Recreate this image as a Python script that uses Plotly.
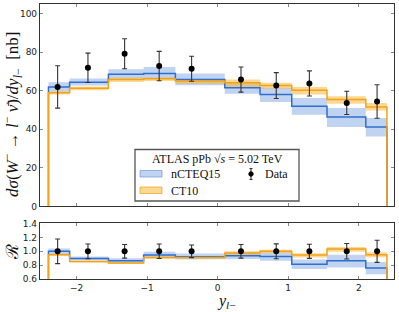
import plotly.graph_objects as go

# ---------------- data ----------------
bin_edges = [-2.4, -2.1, -1.55, -1.05, -0.6, 0.1, 0.6, 1.05, 1.55, 2.1, 2.4]

ncteq_central = [62.0, 64.4, 68.5, 69.0, 65.8, 61.5, 58.0, 51.9, 46.4, 41.2]
ncteq_upper   = [64.4, 66.4, 71.2, 72.3, 69.0, 64.4, 61.5, 56.3, 51.1, 45.9]
ncteq_lower   = [59.6, 62.7, 66.2, 66.2, 62.9, 58.4, 54.2, 47.6, 41.2, 36.3]

ct10_central  = [58.9, 61.3, 65.8, 66.2, 65.0, 64.1, 62.7, 60.3, 55.4, 51.6]
ct10_upper    = [59.9, 62.2, 66.7, 67.0, 66.2, 65.8, 64.2, 62.0, 57.1, 53.7]
ct10_lower    = [58.0, 60.3, 64.6, 65.0, 63.5, 62.0, 61.0, 58.0, 53.3, 49.7]

data_x   = [-2.27, -1.84, -1.32, -0.83, -0.37, 0.33, 0.83, 1.30, 1.83, 2.26]
data_y   = [62.0, 71.9, 79.2, 72.8, 71.4, 65.8, 62.7, 63.8, 53.7, 54.4]
data_err = [11.0, 7.6, 7.8, 7.6, 6.5, 6.5, 6.7, 6.5, 6.0, 8.7]

x_ticks = [-2, -1, 0, 1, 2]
x_ticktext = ["\u22122", "\u22121", "0", "1", "2"]
y_ticks_top = [0, 20, 40, 60, 80, 100]
y_ticks_ratio = [0.6, 0.8, 1.0, 1.2, 1.4]

BLUE = "#2f6fcf"
BLUE_FILL = "rgba(90,140,215,0.38)"
ORANGE = "#f2a31b"
ORANGE_FILL = "rgba(250,178,40,0.5)"
SERIF = "Liberation Serif"
SANS = "DejaVu Sans"


def step_line(vals, floor):
    xs = [bin_edges[0]] + bin_edges[:-1] + [bin_edges[-1], bin_edges[-1]]
    ys = [floor] + list(vals) + [vals[-1], floor]
    return xs, ys


def step_band(up, lo):
    xs, ys = [], []
    for i in range(len(up)):
        xs += [bin_edges[i], bin_edges[i + 1]]
        ys += [up[i], up[i]]
    for i in reversed(range(len(lo))):
        xs += [bin_edges[i + 1], bin_edges[i]]
        ys += [lo[i], lo[i]]
    return xs, ys


def ratio(vals):
    return [v / d for v, d in zip(vals, data_y)]


fig = go.Figure()

panels = [
    ("x", "y", ncteq_central, ncteq_upper, ncteq_lower, ct10_central, ct10_upper, ct10_lower,
     data_y, data_err, 0.0),
    ("x2", "y2", ratio(ncteq_central), ratio(ncteq_upper), ratio(ncteq_lower),
     ratio(ct10_central), ratio(ct10_upper), ratio(ct10_lower),
     [1.0] * len(data_y), [e / d for e, d in zip(data_err, data_y)], 0.0),
]

for xa, ya, nc, nu, nl, cc, cu, cl, dy, de, floor in panels:
    bx, by = step_band(nu, nl)
    fig.add_trace(go.Scatter(x=bx, y=by, fill="toself", fillcolor=BLUE_FILL, line=dict(width=0),
                             mode="lines", xaxis=xa, yaxis=ya, showlegend=False, hoverinfo="skip"))
    ox, oy = step_band(cu, cl)
    fig.add_trace(go.Scatter(x=ox, y=oy, fill="toself", fillcolor=ORANGE_FILL, line=dict(width=0),
                             mode="lines", xaxis=xa, yaxis=ya, showlegend=False, hoverinfo="skip"))
    lx, ly = step_line(nc, floor)
    fig.add_trace(go.Scatter(x=lx, y=ly, mode="lines", line=dict(color=BLUE, width=1.5, shape="hv"),
                             xaxis=xa, yaxis=ya, showlegend=False))
    lx, ly = step_line(cc, floor)
    fig.add_trace(go.Scatter(x=lx, y=ly, mode="lines", line=dict(color=ORANGE, width=1.5, shape="hv"),
                             xaxis=xa, yaxis=ya, showlegend=False))
    fig.add_trace(go.Scatter(x=data_x, y=dy, mode="markers",
                             marker=dict(color="black", size=6),
                             error_y=dict(type="data", array=de, color="#333333", thickness=1.1, width=2.5),
                             xaxis=xa, yaxis=ya, showlegend=False))

axis_common = dict(
    showgrid=False, zeroline=False, showline=True, linecolor="#333333", linewidth=1.2,
    mirror="ticks", ticks="inside", ticklen=3, tickcolor="#888888", tickwidth=1,
    tickfont=dict(family=SANS, size=9, color="#222222"), automargin=False,
)

fig.update_layout(
    width=399, height=312,
    margin=dict(l=40, r=5, t=4, b=33),
    paper_bgcolor="white", plot_bgcolor="white",
    xaxis=dict(domain=[0, 1], range=[-2.52, 2.5], anchor="y", tickvals=x_ticks, ticktext=x_ticktext,
               showticklabels=False, **axis_common),
    yaxis=dict(domain=[0.264, 1], range=[0, 105], anchor="x", tickvals=y_ticks_top, **axis_common),
    xaxis2=dict(domain=[0, 1], range=[-2.52, 2.5], anchor="y2", tickvals=x_ticks, ticktext=x_ticktext,
                **axis_common),
    yaxis2=dict(domain=[0, 0.204], range=[0.6, 1.41], anchor="x2", tickvals=y_ticks_ratio,
                tickformat=".1f", **axis_common),
    showlegend=False,
)


def px_x(px):
    return (px - 40) / 354.0


def px_y(py):
    return (279 - py) / 275.0


# axis titles
fig.add_annotation(xref="paper", yref="paper", x=px_x(12), y=px_y(114), xanchor="center", yanchor="middle",
                   textangle=-90, showarrow=False,
                   text="<i>dσ</i>(<i>W</i><sup>\u2212</sup> → <i>l</i><sup>\u2212</sup> <i>ν̄</i>)/<i>dy</i><sub><i>l</i>\u2212</sub>  [nb]",
                   font=dict(family=SERIF, size=17, color="#111111"))
fig.add_annotation(xref="paper", yref="paper", x=px_x(12), y=px_y(252), xanchor="center", yanchor="middle",
                   textangle=-90, showarrow=False, text="ℛ",
                   font=dict(family=SERIF, size=17, color="#111111"))
fig.add_annotation(xref="paper", yref="paper", x=px_x(226), y=px_y(301), xanchor="center", yanchor="middle",
                   showarrow=False, text="<i>y</i><sub><i>l</i>\u2212</sub>",
                   font=dict(family=SERIF, size=16, color="#111111"))

# manual legend box
fig.add_shape(type="rect", xref="paper", yref="paper",
              x0=px_x(135), x1=px_x(299), y0=px_y(201), y1=px_y(149.5),
              line=dict(color="#555555", width=1.3), fillcolor="white", layer="above")
fig.add_annotation(xref="paper", yref="paper", x=px_x(217), y=px_y(158.5), xanchor="center", yanchor="middle",
                   showarrow=False, text="ATLAS pPb √<i>s</i> = 5.02 TeV",
                   font=dict(family=SERIF, size=12, color="#111111"))
fig.add_shape(type="rect", xref="paper", yref="paper",
              x0=px_x(140), x1=px_x(162), y0=px_y(177), y1=px_y(170.5),
              line=dict(color="rgba(90,140,215,0.6)", width=1), fillcolor=BLUE_FILL, layer="above")
fig.add_annotation(xref="paper", yref="paper", x=px_x(169), y=px_y(174), xanchor="left", yanchor="middle",
                   showarrow=False, text="nCTEQ15", font=dict(family=SERIF, size=12, color="#111111"))
fig.add_shape(type="rect", xref="paper", yref="paper",
              x0=px_x(140), x1=px_x(162), y0=px_y(193.5), y1=px_y(187),
              line=dict(color="rgba(240,160,30,0.7)", width=1), fillcolor=ORANGE_FILL, layer="above")
fig.add_annotation(xref="paper", yref="paper", x=px_x(169), y=px_y(190.5), xanchor="left", yanchor="middle",
                   showarrow=False, text="CT10", font=dict(family=SERIF, size=12, color="#111111"))
# Data legend glyph
fig.add_shape(type="line", xref="paper", yref="paper", x0=px_x(251), x1=px_x(251),
              y0=px_y(179.5), y1=px_y(168.5), line=dict(color="#333333", width=1.1), layer="above")
fig.add_shape(type="line", xref="paper", yref="paper", x0=px_x(249.5), x1=px_x(252.5),
              y0=px_y(168.5), y1=px_y(168.5), line=dict(color="#333333", width=1.1), layer="above")
fig.add_shape(type="line", xref="paper", yref="paper", x0=px_x(249.5), x1=px_x(252.5),
              y0=px_y(179.5), y1=px_y(179.5), line=dict(color="#333333", width=1.1), layer="above")
fig.add_shape(type="circle", xref="paper", yref="paper", x0=px_x(248.8), x1=px_x(253.2),
              y0=px_y(176.2), y1=px_y(171.8), line=dict(color="black", width=1), fillcolor="black",
              layer="above")
fig.add_annotation(xref="paper", yref="paper", x=px_x(263), y=px_y(174), xanchor="left", yanchor="middle",
                   showarrow=False, text="Data", font=dict(family=SERIF, size=12, color="#111111"))

fig.write_html("out.html", config={"displayModeBar": False},
               post_script="document.body.style.margin='0';document.body.style.padding='0';")
